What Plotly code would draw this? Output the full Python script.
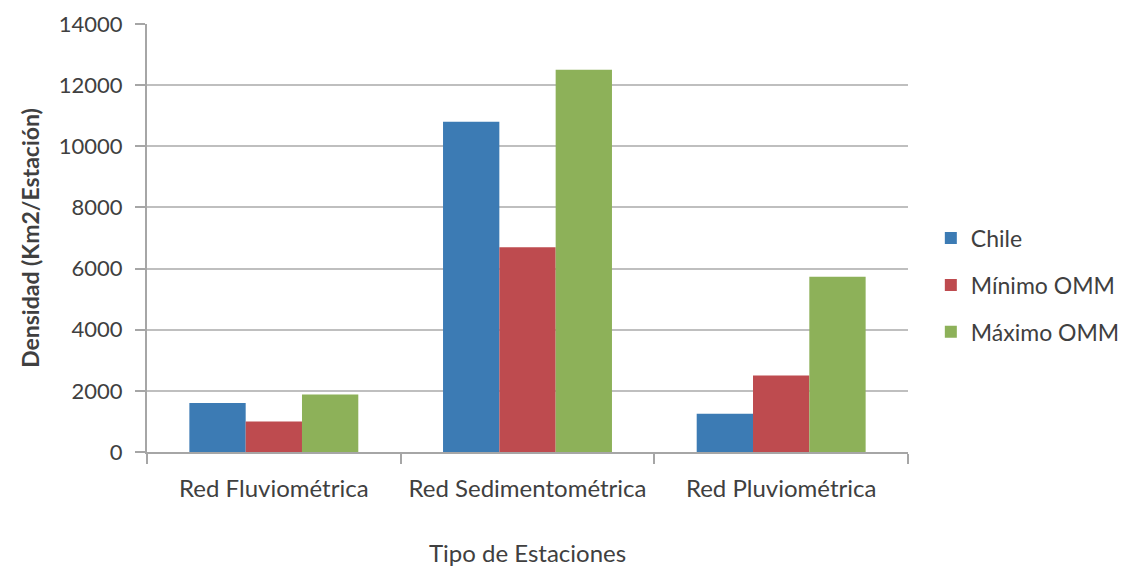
import plotly.graph_objects as go

categories = ["Red Fluviométrica", "Red Sedimentométrica", "Red Pluviométrica"]
series_names = ["Chile", "Mínimo OMM", "Máximo OMM"]
chile = [1600, 10800, 1250]
minimo = [1000, 6700, 2500]
maximo = [1880, 12500, 5730]
colors = ["#3C7BB4", "#BE4B4F", "#8DB159"]
y_ticks = [0, 2000, 4000, 6000, 8000, 10000, 12000, 14000]

fig = go.Figure()
for i, (name, vals) in enumerate(zip(series_names, [chile, minimo, maximo])):
    fig.add_trace(go.Bar(
        x=categories, y=vals, name=name, marker_color=colors[i],
        marker_line_width=0, legendgroup=name,
    ))

font_family = "Lato, 'Open Sans', sans-serif"
fig.update_layout(
    width=1128, height=562,
    paper_bgcolor="white", plot_bgcolor="white",
    barmode="group", bargap=0.334, bargroupgap=0,
    margin=dict(l=139, r=228, t=16, b=118, autoexpand=False),
    font=dict(family=font_family, size=24, color="#404040"),
    showlegend=True,
    legend=dict(
        x=1.03, xanchor="left", y=0.39, yanchor="middle",
        traceorder="grouped", tracegroupgap=14,
        font=dict(size=23, color="#404040"),
        itemwidth=30,
    ),
)
fig.update_xaxes(
    automargin=False,
    showline=True, linecolor="#A6A6A6", linewidth=2,
    ticks="outside", tickson="boundaries", ticklen=10, tickcolor="#A6A6A6", tickwidth=2,
    tickfont=dict(size=24, color="#404040"), ticklabelstandoff=14,
    title=dict(text="Tipo de Estaciones", font=dict(size=24, color="#404040"), standoff=44),
    showgrid=False,
)
fig.update_yaxes(
    automargin=False,
    range=[0, 14000], tickvals=y_ticks, ticktext=[str(v) for v in y_ticks],
    showline=True, linecolor="#A6A6A6", linewidth=2,
    ticks="outside", ticklen=10, tickcolor="#A6A6A6", tickwidth=2,
    showgrid=True, gridcolor="#BFBFBF", gridwidth=2,
    zeroline=False,
    tickfont=dict(size=22, color="#404040"), ticklabelstandoff=8,
    title=dict(text="<b>Densidad (Km2/Estación)</b>", font=dict(size=23, color="#404040"), standoff=13),
)

fig.write_html("out.html")
